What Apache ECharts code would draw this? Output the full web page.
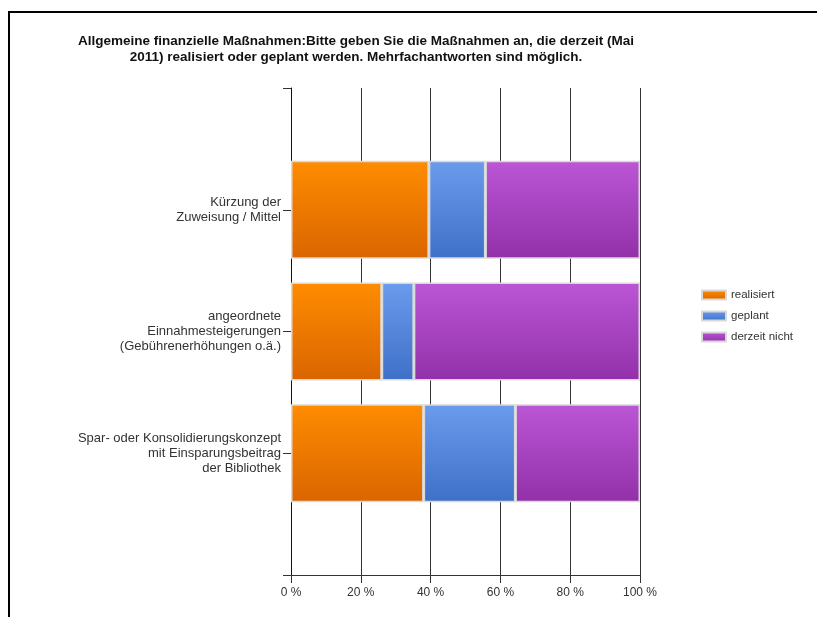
<!DOCTYPE html>
<html>
<head>
<meta charset="utf-8">
<script src="https://cdn.jsdelivr.net/npm/echarts@6/dist/echarts.min.js"></script>
<style>html,body{margin:0;padding:0;background:#fff}#c{width:817px;height:617px}</style>
</head>
<body>
<div id="c"></div>
<script>
const titleText = 'Allgemeine finanzielle Maßnahmen:Bitte geben Sie die Maßnahmen an, die derzeit (Mai\n2011) realisiert oder geplant werden. Mehrfachantworten sind möglich.';
const categories = ['Kürzung der\nZuweisung / Mittel', 'angeordnete\nEinnahmesteigerungen\n(Gebührenerhöhungen o.ä.)', 'Spar- oder Konsolidierungskonzept\nmit Einsparungsbeitrag\nder Bibliothek'];
const seriesNames = ['realisiert', 'geplant', 'derzeit nicht'];
const realisiert = [39.5, 26.0, 38.0];
const geplant = [16.2, 9.2, 26.3];
const derzeitNicht = [44.3, 64.8, 35.7];
const xTicks = [0, 20, 40, 60, 80, 100];

const grads = [
  ['#ff8c00', '#da6500'],
  ['#6a9bec', '#3f70c8'],
  ['#bb56d5', '#9230a9']
];
const values = [realisiert, geplant, derzeitNicht];
const axisCats = [''].concat(categories, ['']);
const chart = echarts.init(document.getElementById('c'));
chart.setOption({
  animation: false,
  title: {
    text: titleText, left: 351, top: 28, textAlign: 'center',
    textStyle: {fontFamily: 'Liberation Sans', fontSize: 13.5, fontWeight: 'bold', color: '#111', lineHeight: 16, align: 'center'}
  },
  legend: {
    orient: 'vertical', left: 696, top: 284, itemWidth: 24, itemHeight: 9, itemGap: 9,
    icon: 'rect',
    textStyle: {fontFamily: 'Liberation Sans', fontSize: 11.5, color: '#333'},
    data: seriesNames
  },
  grid: {left: 291, right: 177, top: 88, bottom: 42, containLabel: false},
  xAxis: {
    type: 'value', min: xTicks[0], max: xTicks[xTicks.length - 1], interval: 20,
    axisLine: {show: true, lineStyle: {color: '#333', width: 1}},
    axisTick: {show: true, length: 8, lineStyle: {color: '#333'}},
    axisLabel: {formatter: v => v + ' %', fontFamily: 'Liberation Sans', fontSize: 12, color: '#333', margin: 12},
    splitLine: {show: true, lineStyle: {color: '#333', width: 1}}
  },
  yAxis: {
    type: 'category', inverse: true, boundaryGap: false, data: axisCats,
    axisLine: {show: true, lineStyle: {color: '#111', width: 1}},
    axisTick: {show: true, length: 8, interval: 0, lineStyle: {color: '#333'}},
    axisLabel: {interval: 0, fontFamily: 'Liberation Sans', fontSize: 13, color: '#333', lineHeight: 15, margin: 10, align: 'right'},
    splitLine: {show: false}
  },
  graphic: [
    {type: 'line', shape: {x1: 8, y1: 12, x2: 817, y2: 12}, style: {stroke: '#000', lineWidth: 2}},
    {type: 'line', shape: {x1: 9, y1: 11, x2: 9, y2: 617}, style: {stroke: '#000', lineWidth: 2}}
  ],
  series: seriesNames.map((name, i) => ({
    name: name, type: 'bar', stack: 'total', barWidth: 98,
    data: [null].concat(values[i], [null]),
    itemStyle: {
      color: {type: 'linear', x: 0, y: 0, x2: 0, y2: 1, colorStops: [{offset: 0, color: grads[i][0]}, {offset: 1, color: grads[i][1]}]},
      borderColor: '#d9d9d9', borderWidth: 1.5
    }
  }))
});
</script>
</body>
</html>
